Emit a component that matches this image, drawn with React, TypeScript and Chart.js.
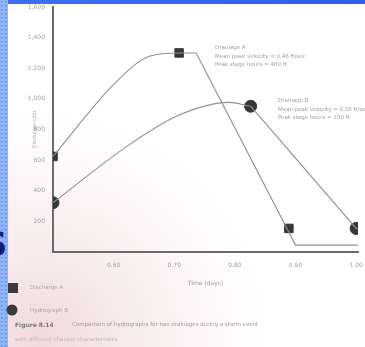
import React, { useEffect, useRef } from "react";
import { Chart, registerables } from "chart.js";

Chart.register(...registerables);

// Data (x in days, y in discharge)
const riseAX = [0.5, 0.603, 0.66, 0.708, 0.736];
const riseAY = [624, 1106, 1280, 1300, 1300];
const fallAX = [0.736, 0.9, 1.02];
const fallAY = [1300, 45, 45];
const riseBX = [0.5, 0.626, 0.708, 0.79, 0.826];
const riseBY = [322, 701, 894, 977, 952];
const fallBX = [0.826, 1.0, 1.02];
const fallBY = [952, 154, 130];
const markAX = [0.5, 0.708, 0.889];
const markAY = [624, 1300, 154];
const markBX = [0.5, 0.826, 1.0];
const markBY = [322, 952, 154];
const xTickValues = [0.6, 0.7, 0.8, 0.9, 1.0];
const yTickValues = [200, 400, 600, 800, 1000, 1200, 1400, 1600];
const seriesNames = ["Discharge A", "Hydrograph B"];
const noteA = ["Drainage A", "Mean peak velocity = 0.46 ft/sec", "Peak stage hours = 460 ft"];
const noteB = ["Drainage B", "Mean peak velocity = 0.28 ft/sec", "Peak stage hours = 230 ft"];
const captionLabel = "Figure 8.14";
const captionText = "Comparison of hydrographs for two drainages during a storm event";
const captionText2 = "with different channel characteristics";

const toPts = (xs: number[], ys: number[]) => xs.map((x, i) => ({ x, y: ys[i] }));

const decor = {
  id: "decor",
  beforeDraw(chart: any) {
    const ctx = chart.ctx;
    const W = chart.width, H = chart.height;
    ctx.save();
    ctx.fillStyle = "#ffffff";
    ctx.fillRect(0, 0, W, H);
    const g = ctx.createRadialGradient(40, 340, 10, 40, 340, 260);
    g.addColorStop(0, "rgba(240,215,220,0.9)");
    g.addColorStop(0.5, "rgba(248,232,235,0.6)");
    g.addColorStop(1, "rgba(255,255,255,0)");
    ctx.fillStyle = g;
    ctx.fillRect(0, 0, W, H);
    const tg = ctx.createLinearGradient(0, 0, W, 0);
    tg.addColorStop(0, "#3f6ff0");
    tg.addColorStop(1, "#2f5fe6");
    ctx.fillStyle = tg;
    ctx.fillRect(0, 0, W, 4);
    ctx.fillStyle = "#8fb4f7";
    ctx.fillRect(0, 0, 8, H);
    ctx.fillStyle = "#5d8df0";
    for (let y = 1; y < H; y += 4) {
      for (let x = 1; x < 8; x += 4) ctx.fillRect(x, y, 1.5, 1.5);
    }
    ctx.fillStyle = "#0d1f7a";
    ctx.font = "bold 34px 'DejaVu Sans'";
    ctx.textBaseline = "middle";
    ctx.fillText("S", -17, 247);
    ctx.restore();
  },
  afterDraw(chart: any) {
    const ctx = chart.ctx;
    ctx.save();
    ctx.textBaseline = "middle";
    ctx.fillStyle = "#a0a0a0";
    ctx.font = "5.5px 'DejaVu Sans'";
    noteA.forEach((t, i) => ctx.fillText(t, 215, 48 + i * 8.5));
    noteB.forEach((t, i) => ctx.fillText(t, 278, 101 + i * 8.5));
    ctx.fillStyle = "#3a3a3a";
    ctx.fillRect(8, 283, 10, 10);
    ctx.beginPath();
    ctx.arc(12, 310, 5.5, 0, Math.PI * 2);
    ctx.fill();
    ctx.fillStyle = "#a8a8a8";
    ctx.font = "5.5px 'DejaVu Sans'";
    ctx.fillText(seriesNames[0], 30, 288);
    ctx.fillText(seriesNames[1], 30, 311);
    ctx.fillStyle = "#777";
    ctx.font = "bold 6px 'DejaVu Sans'";
    ctx.fillText(captionLabel, 15, 325);
    ctx.fillStyle = "#a0a0a0";
    ctx.font = "5.5px 'DejaVu Sans'";
    ctx.fillText(captionText, 72, 325);
    ctx.fillStyle = "#c0b8b8";
    ctx.fillText(captionText2, 15, 340);
    ctx.restore();
  },
};

export default function App() {
  const ref = useRef<HTMLCanvasElement>(null);
  useEffect(() => {
    document.body.style.margin = "0";
    const curve = {
      showLine: true,
      pointRadius: 0,
      borderColor: "#909090",
      borderWidth: 1.1,
      cubicInterpolationMode: "monotone" as const,
      fill: false,
    };
    const straight = { ...curve, cubicInterpolationMode: "default" as const, tension: 0 };
    const chart = new Chart(ref.current as HTMLCanvasElement, {
      type: "scatter",
      data: {
        datasets: [
          { label: "riseA", data: toPts(riseAX, riseAY), ...curve },
          { label: "fallA", data: toPts(fallAX, fallAY), ...straight },
          { label: "riseB", data: toPts(riseBX, riseBY), ...curve },
          { label: "fallB", data: toPts(fallBX, fallBY), ...straight },
          {
            label: seriesNames[0],
            data: toPts(markAX, markAY),
            pointStyle: "rect",
            pointRadius: 6,
            backgroundColor: "#363636",
            borderColor: "#363636",
            showLine: false,
          },
          {
            label: seriesNames[1],
            data: toPts(markBX, markBY),
            pointStyle: "circle",
            pointRadius: 6,
            backgroundColor: "#363636",
            borderColor: "#363636",
            showLine: false,
          },
        ],
      },
      options: {
        animation: false,
        responsive: false,
        layout: { padding: { left: 0, top: 3, right: 0, bottom: 0 } },
        plugins: { legend: { display: false }, tooltip: { enabled: false } },
        scales: {
          x: {
            type: "linear",
            min: 0.5,
            max: 1.003,
            afterBuildTicks: (s: any) => {
              s.ticks = xTickValues.map((v) => ({ value: v }));
            },
            afterFit: (s: any) => {
              s.height = 95;
              s.paddingLeft = 0;
              s.paddingRight = 0;
            },
            grid: { display: false, drawTicks: false },
            border: { display: true, color: "#6a6a6a", width: 2 },
            ticks: {
              padding: 10,
              color: "#a0a0a0",
              font: { size: 6, family: "'DejaVu Sans'" },
              callback: (v: any) => Number(v).toFixed(2),
            },
            title: {
              display: true,
              text: "Time (days)",
              color: "#999",
              font: { size: 6, family: "'DejaVu Sans'" },
              padding: { top: 0, bottom: 60 },
            },
          },
          y: {
            min: 0,
            max: 1600,
            afterBuildTicks: (s: any) => {
              s.ticks = yTickValues.map((v) => ({ value: v }));
            },
            afterFit: (s: any) => {
              s.width = 53;
              s.paddingTop = 0;
              s.paddingBottom = 0;
            },
            grid: { display: false, drawTicks: false },
            border: { display: true, color: "#6a6a6a", width: 2 },
            ticks: {
              padding: 8,
              color: "#a0a0a0",
              font: { size: 6, family: "'DejaVu Sans'" },
              callback: (v: any) => Number(v).toLocaleString("en-US"),
            },
            title: {
              display: true,
              text: "Discharge (cfs)",
              color: "#aaa",
              font: { size: 5, family: "'DejaVu Sans'" },
              padding: { top: 32, bottom: 0 },
            },
          },
        },
      },
      plugins: [decor],
    });
    return () => chart.destroy();
  }, []);
  return (
    <div style={{ position: "fixed", left: 0, top: 0, width: 365, height: 347 }}>
      <canvas ref={ref} width={365} height={347} style={{ display: "block" }} />
    </div>
  );
}
